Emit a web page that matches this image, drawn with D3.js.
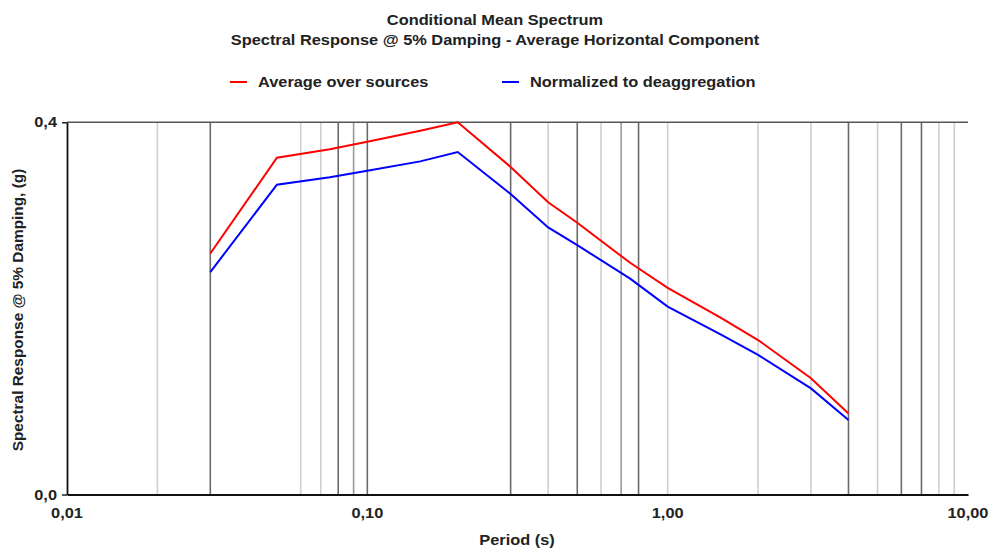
<!DOCTYPE html>
<html>
<head>
<meta charset="utf-8">
<script src="https://cdn.jsdelivr.net/npm/d3@7"></script>
<style>
  body { margin: 0; background: #fff; }
  text { font-family: "Liberation Sans", Arial, sans-serif; font-weight: bold; font-size: 14px; fill: #222; }
</style>
</head>
<body>
<svg id="chart" width="990" height="548"></svg>
<script>
// periods (s) where the spectrum is given
const periods = [0.03, 0.05, 0.075, 0.1, 0.15, 0.2, 0.3, 0.4, 0.5, 0.75, 1.0, 1.5, 2.0, 3.0, 4.0];
// average over sources
const avgSources = [0.259, 0.362, 0.371, 0.379, 0.391, 0.400, 0.352, 0.314, 0.292, 0.249, 0.222, 0.190, 0.166, 0.125, 0.087];
// normalized to deaggregation
const normDeagg = [0.239, 0.333, 0.341, 0.348, 0.358, 0.368, 0.323, 0.287, 0.268, 0.232, 0.202, 0.172, 0.150, 0.114, 0.080];

// vertical grid lines, grouped by how dark they show up
const gridDark = [0.03, 0.08, 0.1, 0.3, 0.5, 0.8, 4, 6, 7];
const gridMid = [0.09, 0.7];
const gridLight = [0.02, 0.06, 0.07, 0.4, 0.6, 1, 2, 3, 5, 8, 9];

const xTicks = [0.01, 0.1, 1, 10];
const yTicks = [0, 0.4];

const titleLines = ["Conditional Mean Spectrum", "Spectral Response @ 5% Damping - Average Horizontal Component"];
const seriesNames = ["Average over sources", "Normalized to deaggregation"];

const svg = d3.select("#chart");
const sx = 1.17; // text in the picture is a bit wider than plain Arial

// plot box
const plotL = 67, plotR = 968, plotT = 122.3, plotB = 494.5;

const x = d3.scaleLog().domain([0.01, 10]).range([plotL, plotR]);
const y = d3.scaleLinear().domain([0, 0.4]).range([plotB, plotT]);

// helper for the stretched text
function label(tx, ty, str, anchor) {
  return svg.append("text")
    .attr("transform", `translate(${tx},${ty}) scale(${sx},1)`)
    .attr("text-anchor", anchor || "middle")
    .text(str);
}

// grid
const grids = [[gridLight, "#cfcfcf"], [gridMid, "#9a9a9a"], [gridDark, "#6a6a6a"]];
grids.forEach(([vals, col]) => {
  svg.append("g").selectAll("line")
    .data(vals)
    .join("line")
    .attr("x1", d => x(d)).attr("x2", d => x(d))
    .attr("y1", plotT).attr("y2", plotB)
    .attr("stroke", col)
    .attr("stroke-width", 1.6);
});

// top border
svg.append("line")
  .attr("x1", plotL).attr("x2", plotR)
  .attr("y1", plotT).attr("y2", plotT)
  .attr("stroke", "#555").attr("stroke-width", 1.6);

// x axis
const xAxis = svg.append("g")
  .attr("transform", `translate(0,${plotB})`)
  .call(d3.axisBottom(x).tickValues(xTicks).tickSize(0).tickFormat(d3.format(".2f")));
xAxis.select(".domain").attr("stroke", "#111").attr("stroke-width", 1.8);
xAxis.selectAll(".tick text").remove();
xTicks.forEach(t => label(x(t), 518, d3.format(".2f")(t).replace(".", ",")));

// y axis
const yAxis = svg.append("g")
  .attr("transform", `translate(${plotL},0)`)
  .call(d3.axisLeft(y).tickValues(yTicks).tickSize(5).tickSizeOuter(0));
yAxis.select(".domain").attr("stroke", "#111").attr("stroke-width", 1.8);
yAxis.selectAll(".tick line").attr("stroke", "#111").attr("stroke-width", 1.4);
yAxis.selectAll(".tick text").remove();
yTicks.forEach(t => label(57, y(t) + 5, d3.format(".1f")(t).replace(".", ","), "end"));

// lines
const line = d3.line()
  .x(d => x(d[0]))
  .y(d => y(d[1]));

const series = [
  { name: seriesNames[0], vals: avgSources, color: "#ff0000" },
  { name: seriesNames[1], vals: normDeagg, color: "#0000ff" }
];

series.forEach(s => {
  svg.append("path")
    .datum(periods.map((p, i) => [p, s.vals[i]]))
    .attr("fill", "none")
    .attr("stroke", s.color)
    .attr("stroke-width", 2)
    .attr("d", line);
});

// titles
label(495, 25, titleLines[0]);
label(495, 45, titleLines[1]);

// legend
const legendX = [230, 502];
series.forEach((s, i) => {
  svg.append("line")
    .attr("x1", legendX[i]).attr("x2", legendX[i] + 17)
    .attr("y1", 82).attr("y2", 82)
    .attr("stroke", s.color).attr("stroke-width", 2);
  label(legendX[i] + 28, 87, s.name, "start");
});

// axis titles
label(517, 545, "Period (s)");
svg.append("text")
  .attr("transform", `translate(23,310) rotate(-90) scale(1.1,1)`)
  .attr("text-anchor", "middle")
  .text("Spectral Response @ 5% Damping, (g)");
</script>
</body>
</html>
